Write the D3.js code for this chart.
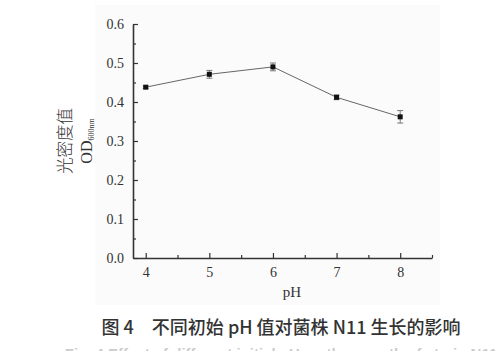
<!DOCTYPE html>
<html>
<head>
<meta charset="utf-8">
<script src="https://cdn.jsdelivr.net/npm/d3@7"></script>
<style>
  body { margin: 0; background: #fff; }
  svg text { fill: #333; }
</style>
</head>
<body>
<svg id="chart" width="500" height="351"></svg>
<script>
// data
const phValues = [4, 5, 6, 7, 8];
const odMeans = [0.438, 0.471, 0.490, 0.412, 0.362];
const odErrors = [0.003, 0.010, 0.010, 0.006, 0.016];
const xTicks = [4, 5, 6, 7, 8];
const yTicks = [0.0, 0.1, 0.2, 0.3, 0.4, 0.5, 0.6];

const margin = { top: 24, right: 68, bottom: 93, left: 133 };
const width = 500 - margin.left - margin.right;
const height = 351 - margin.top - margin.bottom;

const svg = d3.select("#chart");

// faint panel behind the plot like in the scan
svg.append("rect")
    .attr("x", 95).attr("y", 5)
    .attr("width", 345).attr("height", 300)
    .attr("fill", "#fbfbfb");

const plot = svg.append("g")
    .attr("transform", `translate(${margin.left},${margin.top})`);

const x = d3.scaleLinear().domain([3.8, 8.5]).range([0, width]);
const y = d3.scaleLinear().domain([0, 0.6]).range([height, 0]);

// minor ticks
const xMinor = d3.range(4.5, 8.6, 1);
const yMinor = d3.range(0.05, 0.6, 0.1);

plot.append("g")
    .attr("transform", `translate(0,${height})`)
    .call(d3.axisBottom(x).tickValues(xTicks).tickSizeInner(-5).tickSizeOuter(0).tickPadding(9).tickFormat(d3.format("d")));

plot.append("g")
    .attr("transform", `translate(0,${height})`)
    .call(d3.axisBottom(x).tickValues(xMinor).tickSizeInner(-3).tickSizeOuter(0).tickFormat(""))
    .select(".domain").remove();

plot.append("g")
    .call(d3.axisLeft(y).tickValues(yTicks).tickSizeInner(-5).tickSizeOuter(0).tickPadding(9).tickFormat(d3.format(".1f")));

plot.append("g")
    .call(d3.axisLeft(y).tickValues(yMinor).tickSizeInner(-3).tickSizeOuter(0).tickFormat(""))
    .select(".domain").remove();

plot.selectAll(".domain").attr("stroke", "#333").attr("stroke-width", 1.6);
plot.selectAll(".tick line").attr("stroke", "#333").attr("stroke-width", 1.2);
plot.selectAll(".tick text")
    .attr("font-family", "Liberation Serif, serif")
    .attr("font-size", 14)
    .attr("fill", "#333");

const pts = phValues.map((p, i) => ({ ph: p, od: odMeans[i], err: odErrors[i] }));

const line = d3.line()
    .x(d => x(d.ph))
    .y(d => y(d.od));

plot.append("path")
    .datum(pts)
    .attr("d", line)
    .attr("fill", "none")
    .attr("stroke", "#666")
    .attr("stroke-width", 1);

// error bars
const eb = plot.append("g").selectAll("g")
    .data(pts)
    .join("g")
    .attr("stroke", "#777")
    .attr("stroke-width", 1);

eb.append("line")
    .attr("x1", d => x(d.ph)).attr("x2", d => x(d.ph))
    .attr("y1", d => y(d.od - d.err)).attr("y2", d => y(d.od + d.err));
eb.append("line")
    .attr("x1", d => x(d.ph) - 3).attr("x2", d => x(d.ph) + 3)
    .attr("y1", d => y(d.od + d.err)).attr("y2", d => y(d.od + d.err));
eb.append("line")
    .attr("x1", d => x(d.ph) - 3).attr("x2", d => x(d.ph) + 3)
    .attr("y1", d => y(d.od - d.err)).attr("y2", d => y(d.od - d.err));

plot.append("g").selectAll("rect")
    .data(pts)
    .join("rect")
    .attr("x", d => x(d.ph) - 2.5)
    .attr("y", d => y(d.od) - 2.5)
    .attr("width", 5)
    .attr("height", 5)
    .attr("fill", "#111");

// axis labels
svg.append("text")
    .attr("x", 292).attr("y", 297)
    .attr("text-anchor", "middle")
    .attr("font-family", "Liberation Serif, serif")
    .attr("font-size", 15)
    .text("pH");

svg.append("text")
    .attr("transform", "translate(71,141) rotate(-90)")
    .attr("text-anchor", "middle")
    .attr("font-family", "Noto Sans CJK SC, serif")
    .attr("font-size", 16.5)
    .attr("font-weight", 300)
    .text("光密度值");

const yl2 = svg.append("text")
    .attr("transform", "translate(92,141) rotate(-90)")
    .attr("text-anchor", "middle")
    .attr("font-family", "Liberation Serif, serif")
    .attr("font-size", 16);
yl2.append("tspan").text("OD");
yl2.append("tspan").attr("font-size", 8).attr("dy", 2).text("600nm");

// caption
svg.append("text")
    .attr("x", 281).attr("y", 334)
    .attr("text-anchor", "middle")
    .attr("font-family", "Noto Sans CJK SC, sans-serif")
    .attr("font-size", 18)
    .attr("font-weight", 500)
    .attr("fill", "#222")
    .text("图 4\u2003不同初始 pH 值对菌株 N11 生长的影响");

// English caption, only its top edge shows at the bottom of the scan
svg.append("text")
    .attr("x", 281).attr("y", 359)
    .attr("text-anchor", "middle")
    .attr("font-family", "Liberation Sans, sans-serif")
    .attr("font-size", 15)
    .attr("font-weight", "bold")
    .style("fill", "#ccc")
    .text("Fig. 4  Effect of different initial pH on the growth of strain N11");
</script>
</body>
</html>
